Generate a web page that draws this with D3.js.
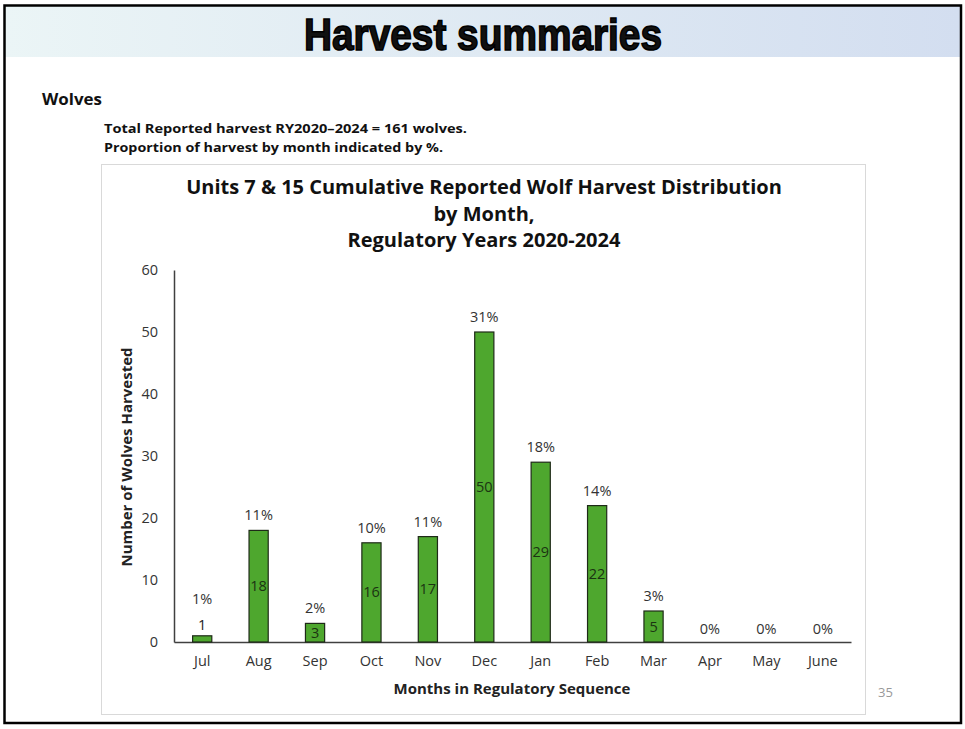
<!DOCTYPE html>
<html><head><meta charset="utf-8">
<script src="https://cdn.jsdelivr.net/npm/d3@7"></script>
<style>html,body{margin:0;padding:0;background:#fff;}svg{display:block;}</style>
</head><body>
<svg id="c" width="965" height="729"></svg>
<script>
const months = ["Jul","Aug","Sep","Oct","Nov","Dec","Jan","Feb","Mar","Apr","May","June"];
const harvest = [1,18,3,16,17,50,29,22,5,0,0,0];
const percents = ["1%","11%","2%","10%","11%","31%","18%","14%","3%","0%","0%","0%"];
const yTicks = [0,10,20,30,40,50,60];
const titleLines = ["Units 7 & 15 Cumulative Reported Wolf Harvest Distribution","by Month,","Regulatory Years 2020-2024"];
const noteLines = ["Total Reported harvest RY2020\u20132024 = 161 wolves.","Proportion of harvest by month indicated by %."];

const svg = d3.select("#c");
const defs = svg.append("defs");
const g = defs.append("linearGradient").attr("id","hdr").attr("x1","0").attr("x2","1");
g.append("stop").attr("offset","0").attr("stop-color","#ebf5f6");
g.append("stop").attr("offset","1").attr("stop-color","#d3def0");

svg.append("rect").attr("x",5).attr("y",6).attr("width",955).attr("height",51).attr("fill","url(#hdr)");
svg.append("text").attr("x",483).attr("y",50).attr("text-anchor","middle")
  .attr("font-family","'Liberation Sans Narrow','Arial Narrow','Liberation Sans',sans-serif")
  .attr("font-weight","bold").attr("font-size",45).attr("fill","#111").attr("stroke","#000").attr("stroke-width",1.6)
  .attr("textLength",358).attr("lengthAdjust","spacingAndGlyphs").text("Harvest summaries");
svg.append("rect").attr("x",4.5).attr("y",5.5).attr("width",956.5).attr("height",717.5)
  .attr("fill","none").attr("stroke","#000").attr("stroke-width",2.5);

svg.append("text").attr("x",42).attr("y",105).attr("font-family","'Open Sans',Lato,sans-serif")
  .attr("font-weight","bold").attr("font-size",16.5).attr("fill","#111")
  .attr("textLength",60).attr("lengthAdjust","spacingAndGlyphs").text("Wolves");
const noteLens = [363, 339];
noteLines.forEach((t,i)=>{
  svg.append("text").attr("x",104).attr("y",133+i*19).attr("font-family","'Open Sans',Lato,sans-serif")
    .attr("font-weight","bold").attr("font-size",12.5).attr("fill","#111")
    .attr("textLength",noteLens[i]).attr("lengthAdjust","spacingAndGlyphs").text(t);
});
svg.append("text").attr("x",878).attr("y",697).attr("font-family","'Open Sans',Lato,sans-serif")
  .attr("font-size",13).attr("fill","#999").text("35");

// chart frame
svg.append("rect").attr("x",101.5).attr("y",164.5).attr("width",764).attr("height",550)
  .attr("fill","#fff").attr("stroke","#d9d9d9").attr("stroke-width",1);

const font = "'Open Sans','Noto Sans',sans-serif";
titleLines.forEach((t,i)=>{
  svg.append("text").attr("x",484).attr("y",194+i*26.5).attr("text-anchor","middle")
    .attr("font-family",font).attr("font-weight","bold").attr("font-size",20).attr("fill","#111")
    .text(t);
});

const x = d3.scaleBand().domain(months).range([174,851]).paddingInner(0.66).paddingOuter(0.33);
const y = d3.scaleLinear().domain([0,60]).range([642,270]);

const yAx = svg.append("g").attr("transform","translate(174,0)")
  .call(d3.axisLeft(y).tickValues(yTicks).tickSize(0).tickPadding(16));
yAx.select(".domain").attr("stroke","#404040").attr("stroke-width",1.5);
yAx.selectAll("text").attr("font-family",font).attr("font-size",14.5).attr("fill","#333");

const xAx = svg.append("g").attr("transform","translate(0,642)")
  .call(d3.axisBottom(x).tickSize(0).tickPadding(14));
xAx.select(".domain").attr("stroke","#404040").attr("stroke-width",1.5);
xAx.selectAll("text").attr("font-family",font).attr("font-size",14.5).attr("fill","#333");

const data = months.map((m,i)=>({m, v:harvest[i], p:percents[i]}));
svg.append("g").selectAll("rect").data(data.filter(d=>d.v>0)).join("rect")
  .attr("x",d=>x(d.m)).attr("width",x.bandwidth())
  .attr("y",d=>y(d.v)).attr("height",d=>y(0)-y(d.v))
  .attr("fill","#4ea72e").attr("stroke","#1e2a18").attr("stroke-width",1.2);

// value labels
svg.append("g").selectAll("text").data(data.filter(d=>d.v>0)).join("text")
  .attr("x",d=>x(d.m)+x.bandwidth()/2)
  .attr("y",d=> d.v<2 ? y(d.v)-6 : y(d.v/2)+5)
  .attr("text-anchor","middle").attr("font-family",font).attr("font-size",14.5)
  .attr("fill",d=>d.v<2?"#222":"#1b3312").text(d=>d.v);

// percent labels
svg.append("g").selectAll("text").data(data).join("text")
  .attr("x",d=>x(d.m)+x.bandwidth()/2)
  .attr("y",d=> d.v===0 ? y(0)-8 : (d.v<2 ? y(d.v)-32 : y(d.v)-10))
  .attr("text-anchor","middle").attr("font-family",font).attr("font-size",14.5).attr("fill","#333")
  .text(d=>d.p);

svg.append("text").attr("transform","translate(132,457) rotate(-90)").attr("text-anchor","middle")
  .attr("font-family",font).attr("font-weight","bold").attr("font-size",15).attr("fill","#222")
  .text("Number of Wolves Harvested");
svg.append("text").attr("x",512).attr("y",694).attr("text-anchor","middle")
  .attr("font-family",font).attr("font-weight","bold").attr("font-size",15).attr("fill","#222")
  .text("Months in Regulatory Sequence");
</script>
</body></html>
